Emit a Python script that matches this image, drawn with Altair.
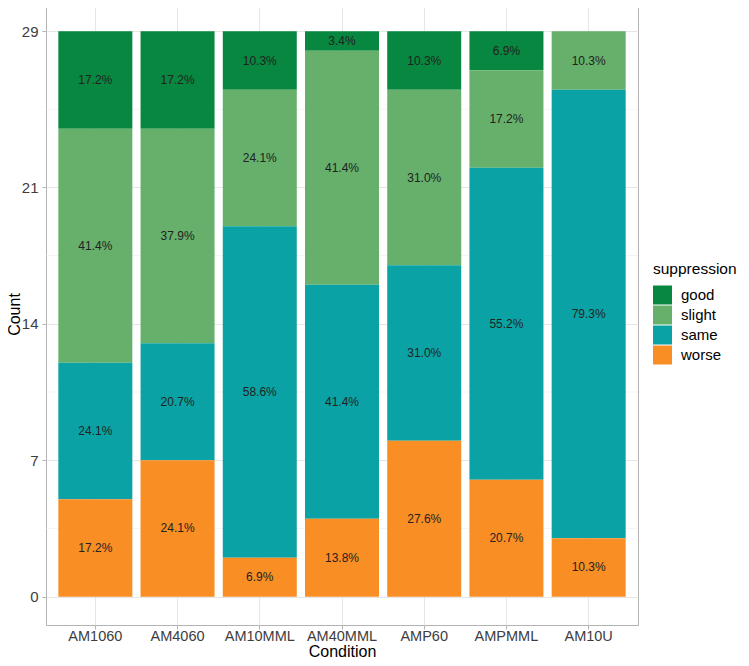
import altair as alt
import pandas as pd

conditions = ["AM1060", "AM4060", "AM10MML", "AM40MML", "AMP60", "AMPMML", "AM10U"]
levels = ["good", "slight", "same", "worse"]
colors = ["#07873f", "#66b06b", "#0aa2a4", "#f98e24"]

good = [5, 5, 3, 1, 3, 2, 0]
slight = [12, 11, 7, 12, 9, 5, 3]
same = [7, 6, 17, 12, 9, 16, 23]
worse = [5, 7, 2, 4, 8, 6, 3]

y_ticks = [0, 7, 14, 21, 29]
y_minor = [3.5, 10.5, 17.5, 25]
y_domain = [-1.45, 30.45]

series = {"good": good, "slight": slight, "same": same, "worse": worse}
stack_rank = {"worse": 0, "same": 1, "slight": 2, "good": 3}
totals = [sum(v) for v in zip(good, slight, same, worse)]

rows = []
for i, c in enumerate(conditions):
    for lev in levels:
        n = series[lev][i]
        if n > 0:
            rows.append(dict(Condition=c, suppression=lev, n=n, rank=stack_rank[lev],
                             label=f"{100 * n / totals[i]:.1f}%"))
df = pd.DataFrame(rows)

FONT = "Liberation Sans"
yscale = alt.Scale(domain=y_domain, nice=False, zero=False)
xscale = alt.Scale(paddingInner=0.1, paddingOuter=0.15)

yaxis = alt.Axis(values=y_ticks, title="Count", titleAngle=270, titleX=-23.5, titleY=311,
                 labelPadding=4, labelFontSize=15, grid=True)

minor = alt.Chart(pd.DataFrame({"v": y_minor})).mark_rule(
    color="#ededed", strokeWidth=0.6
).encode(y=alt.Y("v:Q", scale=yscale, axis=None))

base = alt.Chart(df).transform_stack(
    stack="n", groupby=["Condition"],
    sort=[alt.SortField("rank", order="ascending")],
    as_=["y0", "y1"]
).transform_calculate(mid="(datum.y0 + datum.y1) / 2")

xaxis = alt.Axis(title="Condition", labelAngle=0, bandPosition=0.5, grid=True,
                 labelPadding=0, labelFontSize=14.5, titleY=18)

bars = base.mark_bar().encode(
    x=alt.X("Condition:N", sort=conditions, scale=xscale, axis=xaxis),
    y=alt.Y("y0:Q", scale=yscale, axis=yaxis),
    y2="y1:Q",
    color=alt.Color("suppression:N",
                    scale=alt.Scale(domain=levels, range=colors),
                    legend=alt.Legend(orient="none", legendX=607, legendY=259,
                                      title="suppression", titleFontSize=15.5,
                                      titleFontWeight="normal", titleFont=FONT,
                                      titleColor="black", labelFont=FONT,
                                      labelFontSize=15, labelColor="black",
                                      symbolType="square", symbolSize=361,
                                      symbolStrokeWidth=0, symbolOpacity=1,
                                      rowPadding=1, labelOffset=9, titlePadding=8)),
)

texts = base.mark_text(font=FONT, fontSize=12, color="#222222").encode(
    x=alt.X("Condition:N", sort=conditions, scale=xscale, axis=None),
    y=alt.Y("mid:Q", scale=yscale, axis=None),
    text="label:N",
)

chart = alt.layer(minor, bars, texts).resolve_axis(
    x="independent", y="independent"
).properties(
    width=592, height=622,
    autosize=alt.AutoSizeParams(type="none"),
    padding={"left": 38, "top": -5, "right": 102, "bottom": 33},
).configure_view(
    stroke="#b3b3b3", strokeWidth=1
).configure_axis(
    labelFont=FONT, titleFont=FONT, titleFontSize=16,
    titleFontWeight="normal", titleColor="black", labelColor="#3d3d3d",
    domain=False, tickColor="#b3b3b3", tickSize=4,
    gridColor="#e6e6e6", gridWidth=1,
)

chart.save("out.html", embed_options={"renderer": "svg", "actions": False})
